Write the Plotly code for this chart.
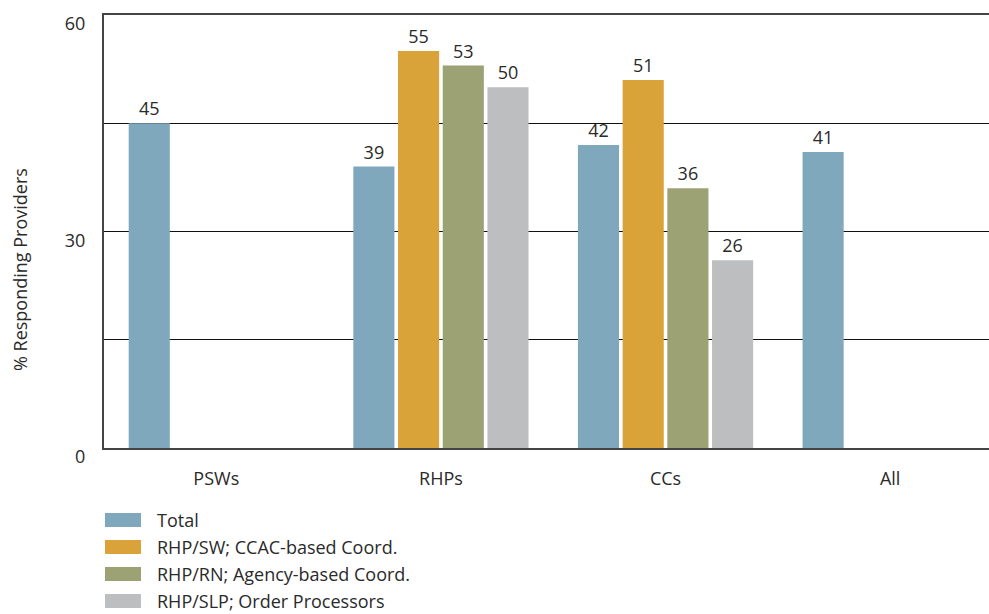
import plotly.graph_objects as go

# Provider groups on the x axis
categories = ["PSWs", "RHPs", "CCs", "All"]

# Series (percent of responding providers); None where a group has no value
series_names = [
    "Total",
    "RHP/SW; CCAC-based Coord.",
    "RHP/RN; Agency-based Coord.",
    "RHP/SLP; Order Processors",
]
total = [45, 39, 42, 41]
rhp_sw = [None, 55, 51, None]
rhp_rn = [None, 53, 36, None]
rhp_slp = [None, 50, 26, None]

y_tick_values = [0, 15, 30, 45, 60]
y_tick_labels = ["0", "", "30", "", "60"]

colors = ["#80A8BD", "#DAA33A", "#9CA273", "#BDBEC0"]
series_values = [total, rhp_sw, rhp_rn, rhp_slp]

FONT = "Open Sans, Noto Sans, sans-serif"
TEXT_COLOR = "#2a2a2a"
FS = 18

fig = go.Figure()
for name, vals, col in zip(series_names, series_values, colors):
    fig.add_trace(go.Bar(
        x=categories,
        y=vals,
        name=name,
        marker=dict(color=col, line=dict(width=0)),
        text=[("" if v is None else str(v)) for v in vals],
        textposition="outside",
        textfont=dict(family=FONT, size=FS, color=TEXT_COLOR),
        cliponaxis=False,
        showlegend=False,
    ))

W, H = 989, 614
ML, MR, MT, MB = 104, 0, 15, 166
plot_w = W - ML - MR
plot_h = H - MT - MB

fig.update_layout(
    width=W,
    height=H,
    margin=dict(l=ML, r=MR, t=MT, b=MB, pad=0),
    paper_bgcolor="white",
    plot_bgcolor="white",
    barmode="group",
    bargap=0.204,
    bargroupgap=0.08,
    font=dict(family=FONT, size=FS, color=TEXT_COLOR),
    uniformtext=dict(mode=False),
)

fig.update_xaxes(
    type="category",
    range=[-0.5, 3.44],
    showgrid=False,
    showline=True,
    linecolor="#444444",
    linewidth=2,
    mirror=True,
    ticks="",
    ticklabelstandoff=13,
    tickfont=dict(family=FONT, size=FS, color=TEXT_COLOR),
    fixedrange=True,
)

fig.update_yaxes(
    range=[0, 60],
    tickvals=y_tick_values,
    ticktext=y_tick_labels,
    showgrid=True,
    gridcolor="#111111",
    gridwidth=1.3,
    zeroline=False,
    showline=True,
    linecolor="#444444",
    linewidth=2,
    ticks="",
    ticklabelstandoff=13,
    ticklabelshift=9,
    tickfont=dict(family=FONT, size=FS, color=TEXT_COLOR),
    fixedrange=True,
)

# Y axis title
fig.add_annotation(
    text="% Responding Providers",
    xref="paper", yref="paper",
    x=(20 - ML) / plot_w, y=(MT + plot_h - 270) / plot_h,
    xanchor="center", yanchor="middle",
    textangle=-90,
    showarrow=False,
    font=dict(family=FONT, size=FS, color=TEXT_COLOR),
)

# Legend drawn as swatches with labels below the plot
row_tops = [513, 540, 567, 594]
for name, col, top in zip(series_names, colors, row_tops):
    y0 = (MT + plot_h - top) / plot_h
    y1 = (MT + plot_h - (top + 14)) / plot_h
    fig.add_shape(
        type="rect",
        xref="paper", yref="paper",
        x0=(105 - ML) / plot_w, x1=(141 - ML) / plot_w,
        y0=y1, y1=y0,
        fillcolor=col, line=dict(width=0),
    )
    fig.add_annotation(
        text=name,
        xref="paper", yref="paper",
        x=(155 - ML) / plot_w, y=(y0 + y1) / 2,
        xanchor="left", yanchor="middle",
        showarrow=False,
        font=dict(family=FONT, size=FS, color=TEXT_COLOR),
    )

fig.write_html("out.html", config=dict(displayModeBar=False))
